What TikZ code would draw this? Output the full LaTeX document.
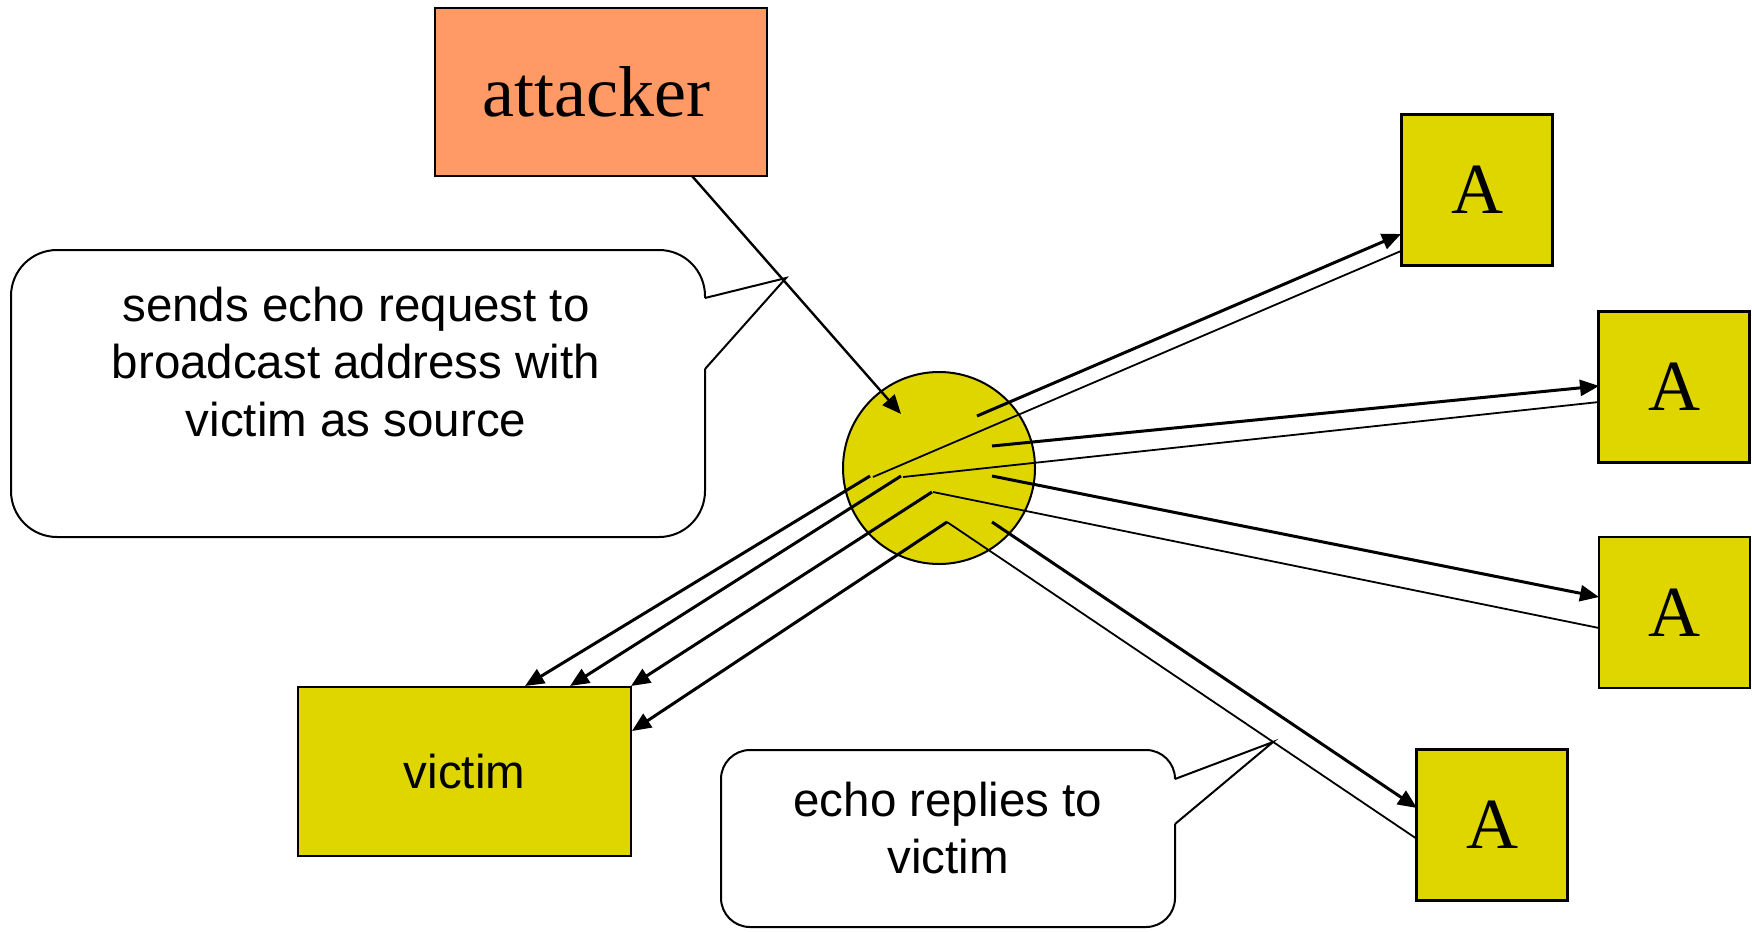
\documentclass[tikz,border=0pt]{standalone}
\usepackage{fontspec}
\setmainfont{Liberation Serif}
\newfontfamily\labelsans{Liberation Sans}
\usetikzlibrary{arrows.meta}
\definecolor{hostyellow}{RGB}{223,214,0}
\definecolor{attackorange}{RGB}{255,153,102}
\begin{document}
\begin{tikzpicture}[x=1pt,y=-1pt,
  hostbox/.style={draw=black, line width=2.4pt, fill=hostyellow, inner sep=0pt,
    minimum width=151pt, minimum height=151pt, font=\fontsize{72}{80}\selectfont},
  attackbox/.style={draw=black, line width=2.4pt, fill=attackorange, inner sep=0pt,
    minimum width=332pt, minimum height=168pt, font=\fontsize{72}{80}\selectfont},
  victimbox/.style={draw=black, line width=2.4pt, fill=hostyellow, inner sep=0pt,
    minimum width=333pt, minimum height=169pt, font=\labelsans\fontsize{47.5}{57}\selectfont},
  hub/.style={circle, draw=black, line width=2pt, fill=hostyellow, minimum size=192pt, inner sep=0pt},
  req/.style={line width=3pt, -{Triangle[length=19pt,width=16pt]}},
  back/.style={line width=1.8pt},
  callout/.style={draw=black, line width=2pt, line join=miter},
  callouttext/.style={align=center, inner sep=0pt, font=\labelsans\fontsize{47.5}{57.5}\selectfont}
]
\useasboundingbox (0,0) rectangle (1752,931);

% hosts
\node[attackbox] (attacker) at (601,92) {\hspace*{-10pt}attacker};
\node[hub] (bcast) at (939,468) {};
\node[hostbox] (A1) at (1477,190) {A};
\node[hostbox] (A2) at (1674,387) {A};
\node[hostbox] (A3) at (1674.5,612.5) {A};
\node[hostbox] (A4) at (1492,825) {A};
\node[victimbox] (victim) at (464.5,771.5) {victim};

% end points of the traffic lines
\coordinate (atk-out) at (692,176);
\coordinate (hub-in) at (901,414);
\coordinate (out1) at (977,416);   \coordinate (in1) at (1401,234);
\coordinate (ret1) at (1401,251);  \coordinate (mid1) at (873,477);
\coordinate (fwd1) at (870,476);   \coordinate (vic1) at (525,686);
\coordinate (out2) at (992,446);   \coordinate (in2) at (1599,386);
\coordinate (ret2) at (1599,402);  \coordinate (mid2) at (903,477);
\coordinate (fwd2) at (901,476);   \coordinate (vic2) at (570,686);
\coordinate (out3) at (992,476);   \coordinate (in3) at (1599,597);
\coordinate (ret3) at (1599,628);  \coordinate (mid3) at (933,492);
\coordinate (fwd3) at (932,492);   \coordinate (vic3) at (631,686);
\coordinate (out4) at (992,522);   \coordinate (in4) at (1417,808);
\coordinate (ret4) at (1417,839);  \coordinate (mid4) at (947,522);
\coordinate (fwd4) at (947,522);   \coordinate (vic4) at (632,731);

% spoofed request to the broadcast address
\draw[line width=2.4pt, -{Triangle[length=19pt,width=16pt]}] (atk-out) -- (hub-in);

% broadcast to the amplifiers
\draw[req] (out1) -- (in1);
\draw[req] (out2) -- (in2);
\draw[req] (out3) -- (in3);
\draw[req] (out4) -- (in4);

% replies coming back
\draw[back] (ret1) -- (mid1);
\draw[back] (ret2) -- (mid2);
\draw[back] (ret3) -- (mid3);
\draw[back] (ret4) -- (mid4);

% replies delivered to the victim
\draw[req] (fwd1) -- (vic1);
\draw[req] (fwd2) -- (vic2);
\draw[req] (fwd3) -- (vic3);
\draw[req] (fwd4) -- (vic4);

% callout: request
\coordinate (tipreq) at (786,278);
\draw[callout, rounded corners=46pt] (705,298) -- (705,250) -- (11,250) -- (11,537) -- (705,537) -- (705,369);
\draw[callout] (705,298) -- (tipreq) -- (705,369);
\node[callouttext] (reqnote) at (356,362) {sends echo request to\\broadcast address with\\victim as source};

% callout: replies
\coordinate (tiprep) at (1273,742);
\draw[callout, rounded corners=29pt] (1175,779) -- (1175,750) -- (721,750) -- (721,927) -- (1175,927) -- (1175,824);
\draw[callout] (1175,779) -- (tiprep) -- (1175,824);
\node[callouttext] (repnote) at (948,828) {echo replies to\\victim};
\end{tikzpicture}
\end{document}
